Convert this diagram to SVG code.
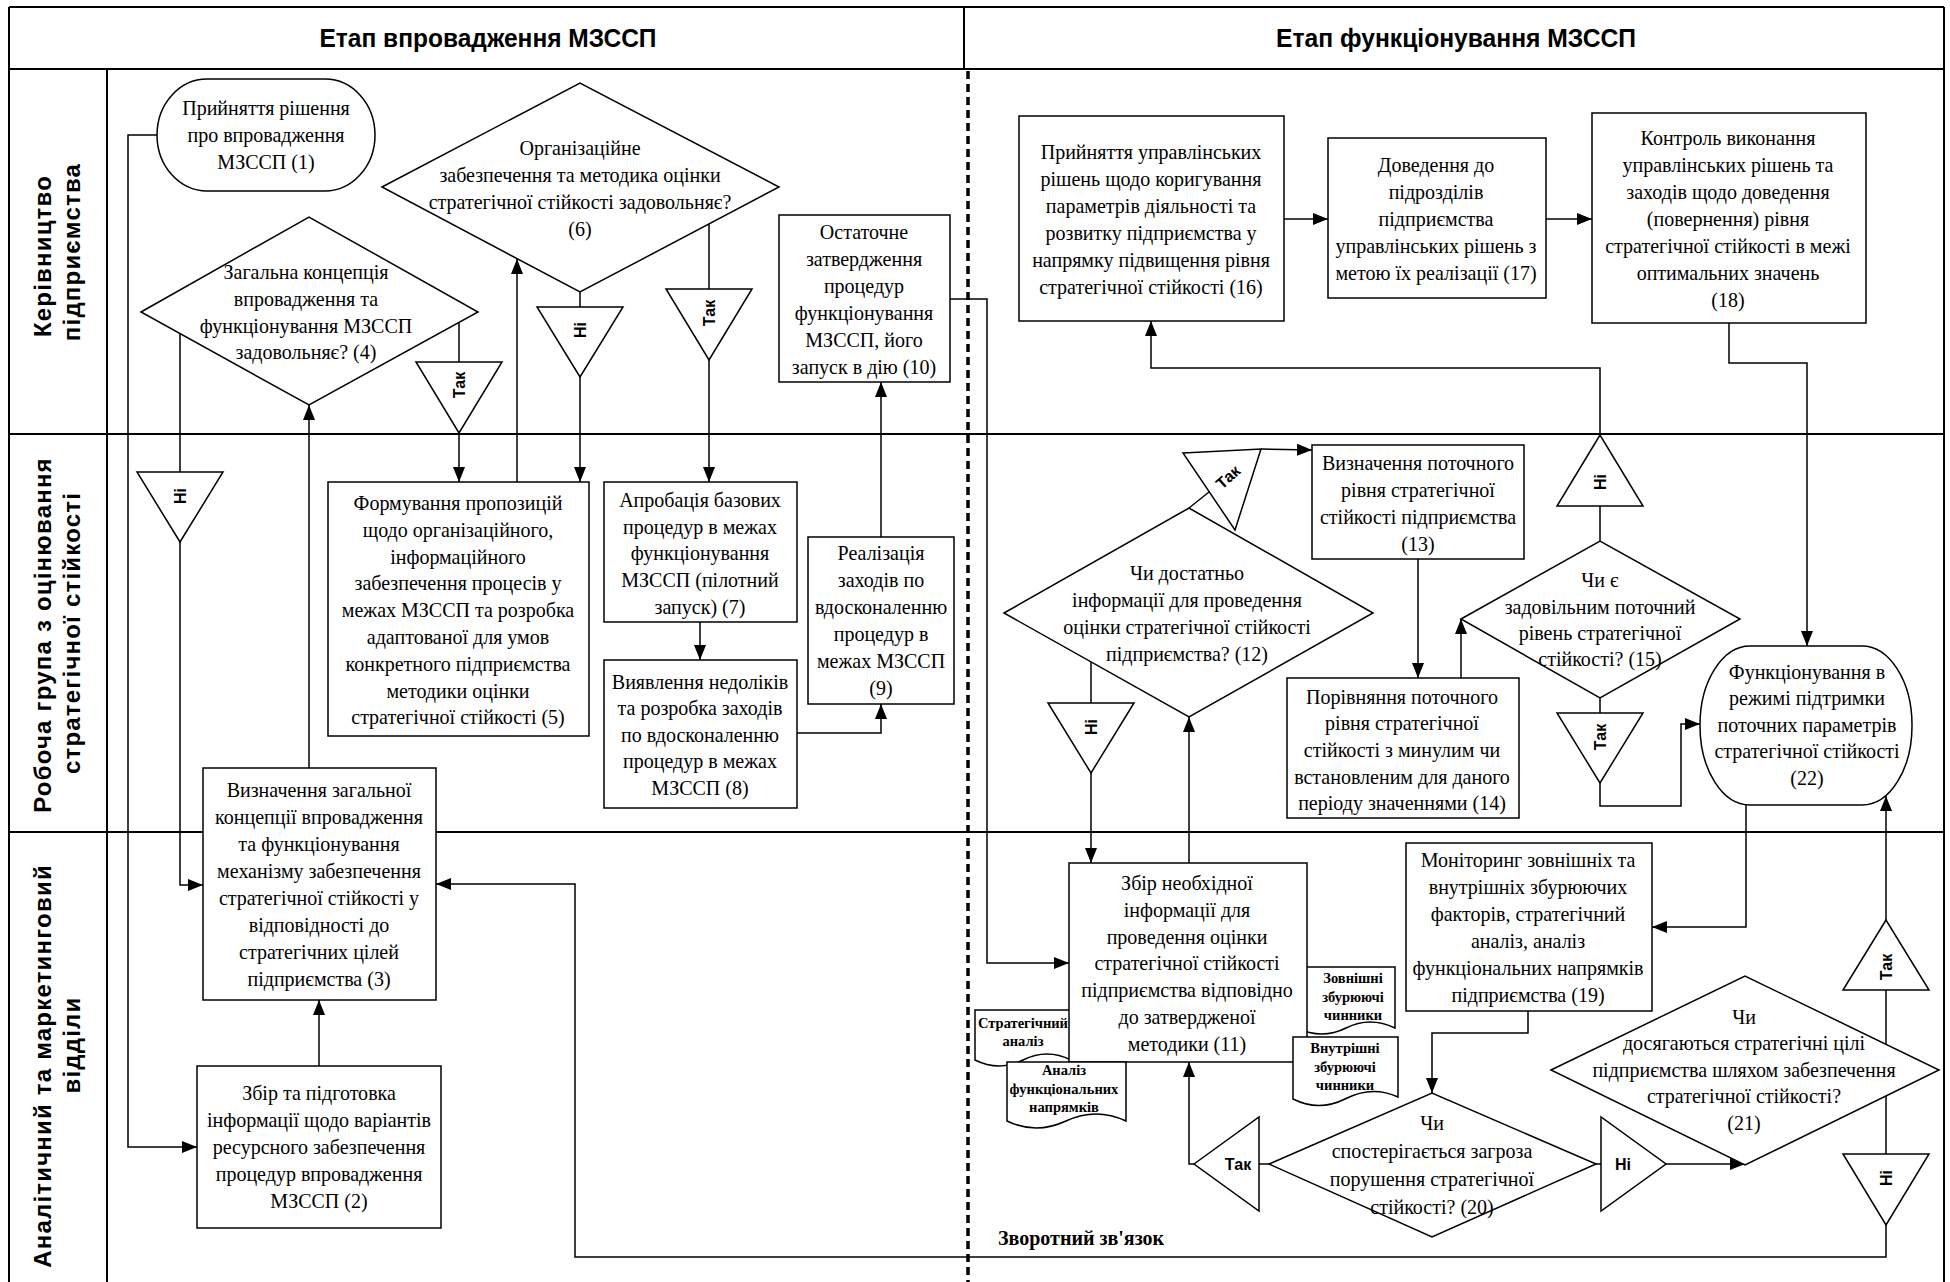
<svg xmlns="http://www.w3.org/2000/svg" width="1950" height="1282" viewBox="0 0 1950 1282">
<style>
.frame{stroke:#000;stroke-width:2;fill:none}
.dash{stroke:#000;stroke-width:3.5;stroke-dasharray:8 5;fill:none}
.box{fill:#fff;stroke:#000;stroke-width:1.5}
.c{fill:none;stroke:#000;stroke-width:1.5}
.ca{fill:none;stroke:#000;stroke-width:1.5;marker-end:url(#arr)}
.t{font-family:"Liberation Serif","Times New Roman",serif;font-size:22px;text-anchor:middle;fill:#000}
.tl{font-family:"Liberation Sans",Arial,sans-serif;font-weight:bold;font-size:16px;text-anchor:middle;dominant-baseline:central;fill:#000}
.lane{font-family:"Liberation Sans",Arial,sans-serif;font-weight:bold;font-size:24px;letter-spacing:1.2px;text-anchor:middle;fill:#000}
.hd{font-family:"Liberation Sans",Arial,sans-serif;font-weight:bold;font-size:25px;text-anchor:middle;fill:#000}
.dt{font-family:"Liberation Serif","Times New Roman",serif;font-weight:bold;font-size:14.5px;text-anchor:middle;fill:#000}
.fb{font-family:"Liberation Serif","Times New Roman",serif;font-weight:bold;font-size:20px;fill:#000}
</style>
<defs>
<marker id="arr" markerUnits="userSpaceOnUse" markerWidth="15" markerHeight="12" refX="15" refY="6" orient="auto">
<path d="M0,0 L15,6 L0,12 z" fill="#000"/>
</marker>
</defs>
<rect width="1950" height="1282" fill="#fff"/>

<g id="frame">
<line class="frame" x1="9" y1="7" x2="1944" y2="7"/>
<line class="frame" x1="9" y1="7" x2="9" y2="1282"/>
<line class="frame" x1="1944" y1="7" x2="1944" y2="1282"/>
<line class="frame" x1="9" y1="69" x2="1944" y2="69"/>
<line class="frame" x1="9" y1="434" x2="1944" y2="434"/>
<line class="frame" x1="9" y1="832" x2="1944" y2="832"/>
<line class="frame" x1="107" y1="69" x2="107" y2="1282"/>
<line class="frame" x1="964" y1="7" x2="964" y2="69"/>
<line class="dash" x1="968" y1="71" x2="968" y2="1282"/>
<text class="hd" x="488" y="47" textLength="337" lengthAdjust="spacingAndGlyphs">Етап впровадження МЗССП</text>
<text class="hd" x="1456" y="47" textLength="360" lengthAdjust="spacingAndGlyphs">Етап функціонування МЗССП</text>
<text class="lane" transform="translate(51,256) rotate(-90)">Керівництво</text>
<text class="lane" transform="translate(80,252) rotate(-90)">підприємства</text>
<text class="lane" transform="translate(51,635) rotate(-90)">Робоча група з оцінювання</text>
<text class="lane" transform="translate(80,633) rotate(-90)">стратегічної стійкості</text>
<text class="lane" transform="translate(51,1066) rotate(-90)">Аналітичний та маркетинговий</text>
<text class="lane" transform="translate(80,1045) rotate(-90)">відділи</text>
</g>

<g id="connectors">
<polyline class="ca" points="157,135 128,135 128,1147 197,1147"/>
<polyline class="c" points="180,334 180,472"/>
<polyline class="ca" points="180,542 180,885 203,885"/>
<polyline class="ca" points="309,768 309,405"/>
<polyline class="ca" points="319,1066 319,1000"/>
<polyline class="c" points="459,323 459,362"/>
<polyline class="ca" points="459,433 459,482"/>
<polyline class="ca" points="517,482 517,259"/>
<polyline class="c" points="580,292 580,307"/>
<polyline class="ca" points="580,377 580,482"/>
<polyline class="c" points="709,224 709,289"/>
<polyline class="ca" points="709,360 709,482"/>
<polyline class="ca" points="700,622 700,660"/>
<polyline class="ca" points="797,733 881,733 881,704"/>
<polyline class="ca" points="881,537 881,382"/>
<polyline class="ca" points="950,299 987,299 987,963 1069,963"/>
<polyline class="ca" points="1886,1225 1886,1257 575,1257 575,884 436,884"/>
<polyline class="ca" points="1284,219 1328,219"/>
<polyline class="ca" points="1546,219 1592,219"/>
<polyline class="ca" points="1729,323 1729,363 1807,363 1807,646"/>
<polyline class="ca" points="1600,435 1600,368 1151,368 1151,321"/>
<polyline class="c" points="1600,541 1600,506"/>
<polyline class="c" points="1600,698 1600,713"/>
<polyline class="ca" points="1600,783 1600,806 1681,806 1681,724 1700,724"/>
<polyline class="ca" points="1418,559 1418,678"/>
<polyline class="ca" points="1461,678 1461,619"/>
<polyline class="c" points="1189,508 1209,492"/>
<polyline class="ca" points="1261,449 1312,450"/>
<polyline class="c" points="1091,662 1091,703"/>
<polyline class="ca" points="1091,773 1091,863"/>
<polyline class="ca" points="1189,863 1189,717"/>
<polyline class="ca" points="1746,805 1746,927 1652,927"/>
<polyline class="ca" points="1528,1011 1528,1033 1432,1033 1432,1093"/>
<polyline class="c" points="1269,1164 1259,1164"/>
<polyline class="ca" points="1194,1164 1189,1164 1189,1062"/>
<polyline class="c" points="1596,1164 1601,1164"/>
<polyline class="ca" points="1666,1164 1745,1164"/>
<polyline class="c" points="1886,1044 1886,990"/>
<polyline class="ca" points="1886,920 1886,796"/>
<polyline class="c" points="1886,1096 1886,1154"/>
<text class="fb" x="998" y="1245">Зворотний зв'язок</text>
</g>

<g id="decisions-labels">
<g id="g-t1"><polygon class="box" points="416,362 502,362 459,433"/><text class="tl" transform="rotate(-90 459 385)" x="459" y="385">Так</text></g>
<g id="g-t2"><polygon class="box" points="537,307 623,307 580,377"/><text class="tl" transform="rotate(-90 580 330)" x="580" y="330">Ні</text></g>
<g id="g-t3"><polygon class="box" points="666,289 752,289 709,360"/><text class="tl" transform="rotate(-90 709 313)" x="709" y="313">Так</text></g>
<g id="g-t4"><polygon class="box" points="137,472 223,472 180,542"/><text class="tl" transform="rotate(-90 180 496)" x="180" y="496">Ні</text></g>
<g id="g-t5"><polygon class="box" points="1600,435 1557,506 1643,506"/><text class="tl" transform="rotate(-90 1600 482)" x="1600" y="482">Ні</text></g>
<g id="g-t6"><polygon class="box" points="1557,713 1643,713 1600,783"/><text class="tl" transform="rotate(-90 1600 737)" x="1600" y="737">Так</text></g>
<g id="g-t7"><polygon class="box" points="1048,703 1134,703 1091,773"/><text class="tl" transform="rotate(-90 1091 727)" x="1091" y="727">Ні</text></g>
<g id="g-t8"><polygon class="box" points="1183,453 1261,449 1235,530"/><text class="tl" transform="rotate(-42 1228 477)" x="1228" y="477">Так</text></g>
<g id="g-t9"><polygon class="box" points="1194,1164 1259,1117 1259,1211"/><text class="tl" x="1238" y="1164">Так</text></g>
<g id="g-t10"><polygon class="box" points="1601,1117 1601,1211 1666,1164"/><text class="tl" x="1623" y="1164">Ні</text></g>
<g id="g-t11"><polygon class="box" points="1886,920 1843,990 1929,990"/><text class="tl" transform="rotate(-90 1886 967)" x="1886" y="967">Так</text></g>
<g id="g-t12"><polygon class="box" points="1843,1154 1929,1154 1886,1225"/><text class="tl" transform="rotate(-90 1886 1178)" x="1886" y="1178">Ні</text></g>
</g>

<g id="n1"><rect class="box" x="157" y="79" width="218" height="112" rx="50" ry="56"/>
<text class="t" transform="translate(266,0) scale(0.91,1)"><tspan x="0" y="115">Прийняття рішення</tspan><tspan x="0" y="142">про впровадження</tspan><tspan x="0" y="169">МЗССП (1)</tspan></text></g>

<g id="n4"><polygon class="box" points="141,312 309,217 478,312 309,405"/>
<text class="t" transform="translate(306,0) scale(0.91,1)"><tspan x="0" y="279">Загальна концепція</tspan><tspan x="0" y="306">впровадження та</tspan><tspan x="0" y="333">функціонування МЗССП</tspan><tspan x="0" y="359">задовольняє? (4)</tspan></text></g>

<g id="n6"><polygon class="box" points="382,187 580,83 779,187 580,292"/>
<text class="t" transform="translate(580,0) scale(0.91,1)"><tspan x="0" y="155">Організаційне</tspan><tspan x="0" y="182">забезпечення та методика оцінки</tspan><tspan x="0" y="209">стратегічної стійкості задовольняє?</tspan><tspan x="0" y="236">(6)</tspan></text></g>

<g id="n10"><rect class="box" x="779" y="215" width="171" height="167"/>
<text class="t" transform="translate(864,0) scale(0.91,1)"><tspan x="0" y="239">Остаточне</tspan><tspan x="0" y="266">затвердження</tspan><tspan x="0" y="293">процедур</tspan><tspan x="0" y="320">функціонування</tspan><tspan x="0" y="347">МЗССП, його</tspan><tspan x="0" y="374">запуск в дію (10)</tspan></text></g>

<g id="n5"><rect class="box" x="328" y="482" width="261" height="254"/>
<text class="t" transform="translate(458,0) scale(0.91,1)"><tspan x="0" y="510">Формування пропозицій</tspan><tspan x="0" y="537">щодо організаційного,</tspan><tspan x="0" y="564">інформаційного</tspan><tspan x="0" y="590">забезпечення процесів у</tspan><tspan x="0" y="617">межах МЗССП та розробка</tspan><tspan x="0" y="644">адаптованої для умов</tspan><tspan x="0" y="671">конкретного підприємства</tspan><tspan x="0" y="698">методики оцінки</tspan><tspan x="0" y="724">стратегічної стійкості (5)</tspan></text></g>

<g id="n7"><rect class="box" x="604" y="482" width="193" height="140"/>
<text class="t" transform="translate(700,0) scale(0.91,1)"><tspan x="0" y="507">Апробація базових</tspan><tspan x="0" y="534">процедур в межах</tspan><tspan x="0" y="560">функціонування</tspan><tspan x="0" y="587">МЗССП (пілотний</tspan><tspan x="0" y="614">запуск) (7)</tspan></text></g>

<g id="n8"><rect class="box" x="604" y="660" width="193" height="148"/>
<text class="t" transform="translate(700,0) scale(0.91,1)"><tspan x="0" y="689">Виявлення недоліків</tspan><tspan x="0" y="715">та розробка заходів</tspan><tspan x="0" y="742">по вдосконаленню</tspan><tspan x="0" y="768">процедур в межах</tspan><tspan x="0" y="795">МЗССП  (8)</tspan></text></g>

<g id="n9"><rect class="box" x="808" y="537" width="146" height="167"/>
<text class="t" transform="translate(881,0) scale(0.91,1)"><tspan x="0" y="560">Реалізація</tspan><tspan x="0" y="587">заходів по</tspan><tspan x="0" y="614">вдосконаленню</tspan><tspan x="0" y="641">процедур в</tspan><tspan x="0" y="668">межах МЗССП</tspan><tspan x="0" y="695">(9)</tspan></text></g>

<g id="n3"><rect class="box" x="203" y="768" width="233" height="232"/>
<text class="t" transform="translate(319,0) scale(0.91,1)"><tspan x="0" y="797">Визначення загальної</tspan><tspan x="0" y="824">концепції впровадження</tspan><tspan x="0" y="851">та функціонування</tspan><tspan x="0" y="878">механізму забезпечення</tspan><tspan x="0" y="905">стратегічної стійкості у</tspan><tspan x="0" y="932">відповідності до</tspan><tspan x="0" y="959">стратегічних цілей</tspan><tspan x="0" y="986">підприємства (3)</tspan></text></g>

<g id="n2"><rect class="box" x="197" y="1066" width="244" height="162"/>
<text class="t" transform="translate(319,0) scale(0.91,1)"><tspan x="0" y="1100">Збір та підготовка</tspan><tspan x="0" y="1127">інформації щодо варіантів</tspan><tspan x="0" y="1154">ресурсного забезпечення</tspan><tspan x="0" y="1181">процедур впровадження</tspan><tspan x="0" y="1208">МЗССП (2)</tspan></text></g>

<g id="n16"><rect class="box" x="1019" y="116" width="265" height="205"/>
<text class="t" transform="translate(1151,0) scale(0.91,1)"><tspan x="0" y="159">Прийняття управлінських</tspan><tspan x="0" y="186">рішень щодо коригування</tspan><tspan x="0" y="213">параметрів діяльності та</tspan><tspan x="0" y="240">розвитку підприємства у</tspan><tspan x="0" y="267">напрямку підвищення рівня</tspan><tspan x="0" y="294">стратегічної стійкості  (16)</tspan></text></g>

<g id="n17"><rect class="box" x="1328" y="138" width="218" height="160"/>
<text class="t" transform="translate(1436,0) scale(0.91,1)"><tspan x="0" y="172">Доведення до</tspan><tspan x="0" y="199">підрозділів</tspan><tspan x="0" y="226">підприємства</tspan><tspan x="0" y="253">управлінських рішень з</tspan><tspan x="0" y="280">метою їх реалізації (17)</tspan></text></g>

<g id="n18"><rect class="box" x="1592" y="113" width="274" height="210"/>
<text class="t" transform="translate(1728,0) scale(0.91,1)"><tspan x="0" y="145">Контроль виконання</tspan><tspan x="0" y="172">управлінських рішень та</tspan><tspan x="0" y="199">заходів щодо доведення</tspan><tspan x="0" y="226">(повернення) рівня</tspan><tspan x="0" y="253">стратегічної стійкості в межі</tspan><tspan x="0" y="280">оптимальних значень</tspan><tspan x="0" y="307">(18)</tspan></text></g>

<g id="n13"><rect class="box" x="1312" y="445" width="212" height="114"/>
<text class="t" transform="translate(1418,0) scale(0.91,1)"><tspan x="0" y="470">Визначення поточного</tspan><tspan x="0" y="497">рівня стратегічної</tspan><tspan x="0" y="524">стійкості підприємства</tspan><tspan x="0" y="551">(13)</tspan></text></g>

<g id="n14"><rect class="box" x="1287" y="678" width="232" height="140"/>
<text class="t" transform="translate(1402,0) scale(0.91,1)"><tspan x="0" y="704">Порівняння поточного</tspan><tspan x="0" y="730">рівня стратегічної</tspan><tspan x="0" y="757">стійкості з минулим чи</tspan><tspan x="0" y="784">встановленим для даного</tspan><tspan x="0" y="810">періоду значеннями (14)</tspan></text></g>

<g id="n12"><polygon class="box" points="1004,613 1189,508 1373,613 1189,717"/>
<text class="t" transform="translate(1187,0) scale(0.91,1)"><tspan x="0" y="580">Чи достатньо</tspan><tspan x="0" y="607">інформації для проведення</tspan><tspan x="0" y="634">оцінки стратегічної стійкості</tspan><tspan x="0" y="661">підприємства? (12)</tspan></text></g>

<g id="n15"><polygon class="box" points="1461,619 1600,541 1740,619 1600,698"/>
<text class="t" transform="translate(1600,0) scale(0.91,1)"><tspan x="0" y="587">Чи є</tspan><tspan x="0" y="614">задовільним поточний</tspan><tspan x="0" y="640">рівень стратегічної</tspan><tspan x="0" y="666">стійкості? (15)</tspan></text></g>

<g id="n22"><rect class="box" x="1700" y="646" width="212" height="159" rx="50" ry="79"/>
<text class="t" transform="translate(1807,0) scale(0.91,1)"><tspan x="0" y="679">Функціонування в</tspan><tspan x="0" y="705">режимі підтримки</tspan><tspan x="0" y="732">поточних параметрів</tspan><tspan x="0" y="758">стратегічної стійкості</tspan><tspan x="0" y="785">(22)</tspan></text></g>

<g id="doc-strategic"><path class="box" d="M975,1010 H1071 V1060 Q1047,1048 1023,1060 Q999,1072 975,1060 Z"/>
<text class="dt"><tspan x="1023" y="1028">Стратегічний</tspan><tspan x="1023" y="1046">аналіз</tspan></text></g>

<g id="doc-external"><path class="box" d="M1297,967 H1395 V1028 Q1370,1016 1346,1028 Q1322,1040 1297,1028 Z"/>
<text class="dt"><tspan x="1353" y="983">Зовнішні</tspan><tspan x="1353" y="1002">збурюючі</tspan><tspan x="1353" y="1020">чинники</tspan></text></g>

<g id="n11"><rect class="box" x="1069" y="863" width="238" height="199"/>
<text class="t" transform="translate(1187,0) scale(0.91,1)"><tspan x="0" y="890">Збір необхідної</tspan><tspan x="0" y="917">інформації для</tspan><tspan x="0" y="944">проведення оцінки</tspan><tspan x="0" y="970">стратегічної стійкості</tspan><tspan x="0" y="997">підприємства відповідно</tspan><tspan x="0" y="1024">до затвердженої</tspan><tspan x="0" y="1051">методики (11)</tspan></text></g>

<g id="doc-functional"><path class="box" d="M1007,1062 H1126 V1121 Q1096,1107 1066,1121 Q1036,1135 1007,1121 Z"/>
<text class="dt"><tspan x="1064" y="1075">Аналіз</tspan><tspan x="1064" y="1094">функціональних</tspan><tspan x="1064" y="1112">напрямків</tspan></text></g>

<g id="doc-internal"><path class="box" d="M1293,1037 H1398 V1097 Q1372,1085 1345,1099 Q1319,1112 1293,1099 Z"/>
<text class="dt"><tspan x="1345" y="1053">Внутрішні</tspan><tspan x="1345" y="1072">збурюючі</tspan><tspan x="1345" y="1090">чинники</tspan></text></g>

<g id="n19"><rect class="box" x="1406" y="843" width="246" height="168"/>
<text class="t" transform="translate(1528,0) scale(0.91,1)"><tspan x="0" y="867">Моніторинг зовнішніх та</tspan><tspan x="0" y="894">внутрішніх збурюючих</tspan><tspan x="0" y="921">факторів, стратегічний</tspan><tspan x="0" y="948">аналіз, аналіз</tspan><tspan x="0" y="975">функціональних напрямків</tspan><tspan x="0" y="1002">підприємства (19)</tspan></text></g>

<g id="n20"><polygon class="box" points="1269,1164 1432,1093 1596,1164 1432,1237"/>
<text class="t" transform="translate(1432,0) scale(0.91,1)"><tspan x="0" y="1130">Чи</tspan><tspan x="0" y="1158">спостерігається загроза</tspan><tspan x="0" y="1186">порушення стратегічної</tspan><tspan x="0" y="1214">стійкості? (20)</tspan></text></g>

<g id="n21"><polygon class="box" points="1551,1070 1745,976 1939,1070 1745,1165"/>
<text class="t" transform="translate(1744,0) scale(0.91,1)"><tspan x="0" y="1024">Чи</tspan><tspan x="0" y="1050">досягаються стратегічні цілі</tspan><tspan x="0" y="1077">підприємства шляхом забезпечення</tspan><tspan x="0" y="1103">стратегічної стійкості?</tspan><tspan x="0" y="1130">(21)</tspan></text></g>
</svg>
